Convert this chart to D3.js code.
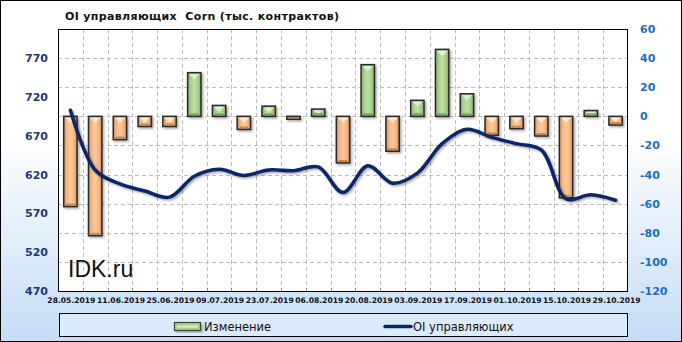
<!DOCTYPE html>
<html><head><meta charset="utf-8">
<script src="https://cdn.jsdelivr.net/npm/d3@7"></script>
<style>html,body{margin:0;padding:0;background:#fff}svg{display:block}</style>
</head><body>
<script>
const dates = ["28.05.2019","04.06.2019","11.06.2019","18.06.2019","25.06.2019","02.07.2019","09.07.2019","16.07.2019","23.07.2019","30.07.2019","06.08.2019","13.08.2019","20.08.2019","27.08.2019","03.09.2019","10.09.2019","17.09.2019","24.09.2019","01.10.2019","08.10.2019","15.10.2019","22.10.2019","29.10.2019"];
const changes = [-62,-82,-16,-7,-7,30,7.5,-9,7,-2,5,-32,35.5,-24,11,46,15.5,-13,-8.5,-13.5,-56,4,-6];
const oi = [703,626,608,599,591,618,627,619,626,625,630,597,631.5,609,622,660,678.5,668,660,652,589,594,587];
const leftTicks = [470,520,570,620,670,720,770];
const rightTicks = [-120,-100,-80,-60,-40,-20,0,20,40,60];
const title = "OI управляющих  Corn (тыс. контрактов)";
const legendLabels = ["Изменение","OI управляющих"];

const W = 682, H = 342;
const M = {l:58, r:628, t:29, b:291};

const svg = d3.select("body").append("svg").attr("width",W).attr("height",H);
const defs = svg.append("defs");

const bg = defs.append("linearGradient").attr("id","bg").attr("x1",0).attr("y1",0).attr("x2",0).attr("y2",1);
bg.append("stop").attr("offset","0").attr("stop-color","#ffffff");
bg.append("stop").attr("offset","0.4").attr("stop-color","#ffffff");
bg.append("stop").attr("offset","1").attr("stop-color","#c4dcf5");

function barGrad(id, dark, mid, light){
  const g = defs.append("linearGradient").attr("id",id).attr("x1",0).attr("y1",0).attr("x2",1).attr("y2",0);
  g.append("stop").attr("offset","0").attr("stop-color",dark);
  g.append("stop").attr("offset","0.22").attr("stop-color",mid);
  g.append("stop").attr("offset","0.5").attr("stop-color",light);
  g.append("stop").attr("offset","0.78").attr("stop-color",mid);
  g.append("stop").attr("offset","1").attr("stop-color",dark);
}
barGrad("gOrange","#c98a5c","#f6b684","#fcc99c");
barGrad("gGreen","#7fa765","#a8d08c","#bde0a4");

const f = defs.append("filter").attr("id","shadow").attr("x","-30%").attr("y","-30%").attr("width","160%").attr("height","160%");
f.append("feDropShadow").attr("dx",1.5).attr("dy",1.5).attr("stdDeviation",1.2).attr("flood-color","#000").attr("flood-opacity",0.35);

svg.append("rect").attr("x",0.5).attr("y",0.5).attr("width",W-1).attr("height",H-1)
  .attr("fill","url(#bg)").attr("stroke","#000").attr("stroke-width",1);

const x = d3.scaleBand().domain(dates).range([M.l, M.r]).paddingInner(0).paddingOuter(0);
const yL = d3.scaleLinear().domain([470, 807.8]).range([M.b, M.t]);
const yR = d3.scaleLinear().domain([-120, 60]).range([M.b, M.t]);

// plot background
svg.append("rect").attr("x",M.l).attr("y",M.t).attr("width",M.r-M.l).attr("height",M.b-M.t).attr("fill","#fff");

// gridlines
const grid = svg.append("g").attr("stroke","#bdbdbd").attr("stroke-dasharray","4,3").attr("stroke-width",1);
dates.slice(1).forEach(d=>{
  const gx = Math.round(x(d))+0.5;
  grid.append("line").attr("x1",gx).attr("x2",gx).attr("y1",M.t).attr("y2",M.b);
});
rightTicks.filter(v=>v>-120 && v<60).forEach(v=>{
  const gy = Math.round(yR(v))+0.5;
  grid.append("line").attr("x1",M.l).attr("x2",M.r).attr("y1",gy).attr("y2",gy);
});

// watermark
svg.append("text").attr("x",68).attr("y",277).attr("font-family","Liberation Sans, Arial, sans-serif")
  .attr("font-size",23).attr("fill","#111").text("IDK.ru");

// bars
const bw = x.bandwidth()*0.54;
const bars = svg.append("g").attr("filter","url(#shadow)");
dates.forEach((d,i)=>{
  const v = changes[i];
  const pos = v >= 0;
  const x0 = x(d) + (x.bandwidth()-bw)/2;
  const yTop = yR(Math.max(v,0)), yBot = yR(Math.min(v,0));
  const h = yBot - yTop;
  const g = bars.append("g");
  g.append("rect").attr("x",x0).attr("y",yTop).attr("width",bw).attr("height",h)
    .attr("fill", pos ? "url(#gGreen)" : "url(#gOrange)");
  const th = Math.min(5, h*0.45);
  g.append("path").attr("d",`M${x0+1.5},${yTop+1.5}L${x0+bw-1.5},${yTop+1.5}L${x0+bw/2},${yTop+1.5+th}Z`)
    .attr("fill", pos ? "#e2f3d4" : "#fff0dc").attr("opacity",0.9);
  g.append("path").attr("d",`M${x0+1},${yBot-1}L${x0+bw-1},${yBot-1}L${x0+bw-3},${yBot-3}L${x0+3},${yBot-3}Z`)
    .attr("fill", pos ? "#6f9456" : "#b8774a").attr("opacity",0.8);
  g.append("rect").attr("x",x0).attr("y",yTop).attr("width",bw).attr("height",h)
    .attr("fill","none").attr("stroke","#2a2a2a").attr("stroke-width",1.5);
});

// line
const line = d3.line().x((d,i)=>x(dates[i])+x.bandwidth()/2).y(d=>yL(d)).curve(d3.curveCatmullRom.alpha(0.5));
svg.append("path").datum(oi).attr("d",line).attr("fill","none").attr("stroke","#0b2566")
  .attr("stroke-width",3.5).attr("stroke-linecap","round").attr("filter","url(#shadow)");

// plot border
svg.append("rect").attr("x",M.l+0.5).attr("y",M.t+0.5).attr("width",M.r-M.l-1).attr("height",M.b-M.t)
  .attr("fill","none").attr("stroke","#000").attr("stroke-width",1);

// x ticks
const xt = svg.append("g").attr("stroke","#888").attr("stroke-width",1);
dates.slice(1).forEach(d=>{
  const gx = Math.round(x(d))+0.5;
  xt.append("line").attr("x1",gx).attr("x2",gx).attr("y1",M.b-3).attr("y2",M.b);
});

// x labels
svg.append("g").selectAll("text").data(dates.filter((d,i)=>i%2===0)).join("text")
  .attr("x",d=>x(d)+x.bandwidth()/2+1).attr("y",302.5).attr("text-anchor","middle")
  .attr("font-family","DejaVu Sans, Verdana, sans-serif").attr("font-weight","bold").attr("font-size",7.6)
  .attr("fill","#111").text(d=>d);

// left axis labels
svg.append("g").selectAll("text").data(leftTicks).join("text")
  .attr("x",48).attr("y",d=>yL(d)).attr("dy","0.36em").attr("text-anchor","end")
  .attr("font-family","DejaVu Sans, Verdana, sans-serif").attr("font-weight","bold").attr("font-size",11)
  .attr("fill","#1f3a70").text(d=>d);

// right axis labels
svg.append("g").selectAll("text").data(rightTicks).join("text")
  .attr("x",640).attr("y",d=>yR(d)).attr("dy","0.36em").attr("text-anchor","start")
  .attr("font-family","DejaVu Sans, Verdana, sans-serif").attr("font-weight","bold").attr("font-size",11)
  .attr("fill","#1b6fc2").text(d=>d);

// title
svg.append("text").attr("x",65).attr("y",19.5).attr("font-family","DejaVu Sans, Verdana, sans-serif")
  .attr("font-weight","bold").attr("font-size",11).attr("letter-spacing",0.35).attr("fill","#111")
  .style("white-space","pre").text(title);

// legend
svg.append("rect").attr("x",59.5).attr("y",313.5).attr("width",568).attr("height",23)
  .attr("fill","#dcebfb").attr("stroke","#000").attr("stroke-width",1);
const lg = svg.append("g").attr("filter","url(#shadow)");
lg.append("rect").attr("x",174.5).attr("y",322.5).attr("width",26).attr("height",8)
  .attr("fill","#a8d08c").attr("stroke","#3d4a33").attr("stroke-width",1.2);
lg.append("rect").attr("x",177).attr("y",325).attr("width",21).attr("height",3).attr("fill","#c9e6b3");
svg.append("text").attr("x",204).attr("y",330.5).attr("font-family","DejaVu Sans, Verdana, sans-serif")
  .attr("font-size",11.5).attr("fill","#111").text(legendLabels[0]);
svg.append("line").attr("x1",385).attr("x2",411).attr("y1",326.5).attr("y2",326.5)
  .attr("stroke","#0b2566").attr("stroke-width",3.5).attr("stroke-linecap","round");
svg.append("text").attr("x",413).attr("y",330.5).attr("font-family","DejaVu Sans, Verdana, sans-serif")
  .attr("font-size",11.5).attr("fill","#111").text(legendLabels[1]);
</script>
</body></html>
